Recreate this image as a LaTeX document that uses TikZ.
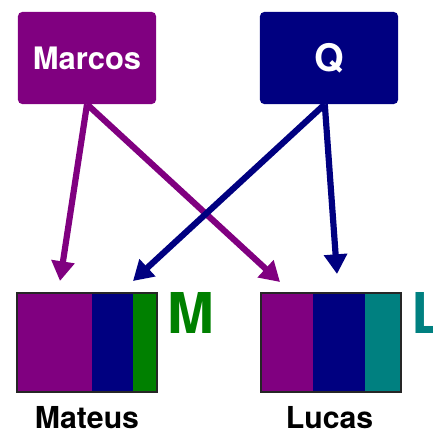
\documentclass[tikz,border=0pt]{standalone}
\usepackage{fontspec}
\setmainfont{TeX Gyre Heros}
\usetikzlibrary{arrows.meta,positioning}
\definecolor{mpurple}{HTML}{800080}
\definecolor{qnavy}{HTML}{000080}
\definecolor{mgreen}{HTML}{008000}
\definecolor{lteal}{HTML}{008080}

\begin{document}
\begin{tikzpicture}[x=0.025cm,y=-0.025cm,
	parent/.style={rounded corners=3pt,minimum width=3.45cm,minimum height=2.3cm,text=white,font=\fontsize{22}{26}\selectfont\bfseries},
	bar/.style={draw=black!85,line width=0.8pt,minimum width=3.5cm,minimum height=2.475cm,inner sep=0pt},
	kid/.style={inner sep=0pt,font=\fontsize{21.5}{26}\selectfont\bfseries},
	tag/.style={anchor=north west,inner sep=0pt,font=\fontsize{40}{44}\selectfont\bfseries},
	arr/.style={line width=4.4pt,-{Triangle[width=16pt,length=14pt]}}]
	\useasboundingbox (0,0) rectangle (433,432);
	\node[parent,fill=mpurple] (marcos) at (87,58) {Marcos};
	\node[parent,fill=qnavy,font=\fontsize{27}{30}\selectfont\bfseries] (q) at (329,58) {Q};
	% Mateus
	\fill[mpurple] (17,293) rectangle (92,392);
	\fill[qnavy] (92,293) rectangle (133,392);
	\fill[mgreen] (133,293) rectangle (157,392);
	\node[bar] (mateus) at (87,342.5) {};
	\node[kid,below=9.5pt of mateus] (mateusname) {Mateus};
	\node[tag,text=mgreen] (mtag) at ([xshift=7pt]mateus.north east) {M};
	% Lucas
	\fill[mpurple] (261,293) rectangle (313,392);
	\fill[qnavy] (313,293) rectangle (365,392);
	\fill[lteal] (365,293) rectangle (401,392);
	\node[bar] (lucas) at (331,342.5) {};
	\node[kid,below=9.5pt of lucas,xshift=-1pt] (lucasname) {Lucas};
	\node[tag,text=lteal] (ltag) at ([xshift=7pt]lucas.north east) {L};
	% heranca
	\coordinate (m1) at (60,281);
	\coordinate (m2) at (133,281);
	\coordinate (l1) at (280,282);
	\coordinate (l2) at (337,274);
	\draw[arr,mpurple] (marcos.south) -- (m1);
	\draw[arr,mpurple] (marcos.south) -- (l1);
	\draw[arr,qnavy] ([xshift=-3pt]q.south) -- (m2);
	\draw[arr,qnavy] ([xshift=-3pt]q.south) -- (l2);
\end{tikzpicture}
\end{document}
